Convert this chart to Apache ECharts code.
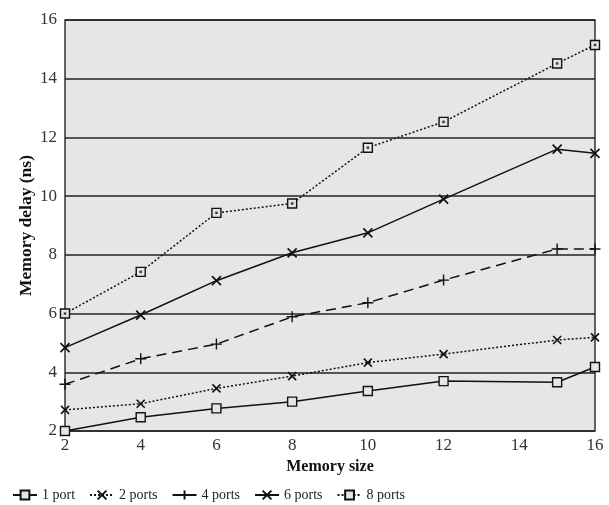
<!DOCTYPE html>
<html>
<head>
<meta charset="utf-8">
<script src="https://cdn.jsdelivr.net/npm/echarts@6/dist/echarts.min.js"></script>
<style>html,body{margin:0;padding:0;background:#fff}#c{width:609px;height:505px}</style>
</head>
<body>
<div id="c"></div>
<script>
const memorySize = [2, 4, 6, 8, 10, 12, 15, 16];
const port1 = [2.0, 2.47, 2.77, 3.0, 3.36, 3.70, 3.66, 4.18];
const ports2 = [2.72, 2.93, 3.45, 3.87, 4.33, 4.62, 5.10, 5.19];
const ports4 = [3.59, 4.46, 4.96, 5.89, 6.37, 7.14, 8.2, 8.2];
const ports6 = [4.84, 5.95, 7.12, 8.07, 8.75, 9.90, 11.60, 11.46];
const ports8 = [6.0, 7.42, 9.43, 9.75, 11.65, 12.53, 14.52, 15.15];
const yTicks = [2, 4, 6, 8, 10, 12, 14, 16];
const xTicks = [2, 4, 6, 8, 10, 12, 14, 16];

const pair = arr => memorySize.map((x, i) => [x, arr[i]]);
const XSYM = 'path://M0,0L10,10M10,0L0,10';
const PLUS = 'path://M5,0L5,10M0,5L10,5';
const FONT = 'Liberation Serif';

function mk(name, data, type, symbol, size, lw, bw) {
  return {
    name, type: 'line', data: pair(data), clip: false,
    symbol, symbolSize: size,
    lineStyle: { color: '#111', width: lw, type },
    itemStyle: { color: symbol === 'rect' ? '#e6e6e6' : '#111', borderColor: '#111', borderWidth: bw || 1.4 },
    emphasis: { disabled: true }, z: 3
  };
}

const chart = echarts.init(document.getElementById('c'));
chart.setOption({
  animation: false,
  textStyle: { fontFamily: FONT },
  grid: { left: 65, right: 14, top: 20, bottom: 74, show: true, backgroundColor: '#e6e6e6', borderColor: '#333', borderWidth: 1.5 },
  xAxis: {
    type: 'value', min: xTicks[0], max: xTicks[xTicks.length - 1], interval: 2,
    name: 'Memory size', nameLocation: 'middle', nameGap: 26,
    nameTextStyle: { fontFamily: FONT, fontWeight: 'bold', fontSize: 16, color: '#111' },
    axisLine: { show: false }, axisTick: { show: false }, splitLine: { show: false },
    axisLabel: { fontFamily: FONT, fontSize: 17, color: '#333', margin: 6 }
  },
  yAxis: {
    type: 'value', min: yTicks[0], max: yTicks[yTicks.length - 1], interval: 2,
    name: 'Memory delay (ns)', nameLocation: 'middle', nameGap: 30, nameRotate: 90,
    nameMoveOverlap: false,
    nameTextStyle: { fontFamily: FONT, fontWeight: 'bold', fontSize: 17.5, color: '#111' },
    axisLine: { show: false }, axisTick: { show: false },
    splitLine: { show: true, lineStyle: { color: '#222', width: 1.5 } },
    axisLabel: { fontFamily: FONT, fontSize: 17, color: '#333', margin: 8 }
  },
  legend: {
    left: 7, top: 483, itemWidth: 24, itemHeight: 11, itemGap: 14,
    textStyle: { fontFamily: FONT, fontSize: 14, color: '#222' },
    data: ['1 port', '2 ports', '4 ports', '6 ports', '8 ports']
  },
  series: [
    mk('1 port', port1, 'solid', 'rect', 9, 1.5),
    mk('2 ports', ports2, [2, 2], XSYM, 8, 1.5, 1.6),
    mk('4 ports', ports4, [10, 6], PLUS, 11, 1.5),
    mk('6 ports', ports6, 'solid', XSYM, 9, 1.5, 1.7),
    mk('8 ports', ports8, [2, 2], 'rect', 9, 1.5),
    {
      name: '8 ports dots', type: 'scatter', data: pair(ports8), symbol: 'rect', symbolSize: 2.5,
      itemStyle: { color: '#111' }, z: 5, clip: false, emphasis: { disabled: true }
    }
  ]
});
</script>
</body>
</html>
